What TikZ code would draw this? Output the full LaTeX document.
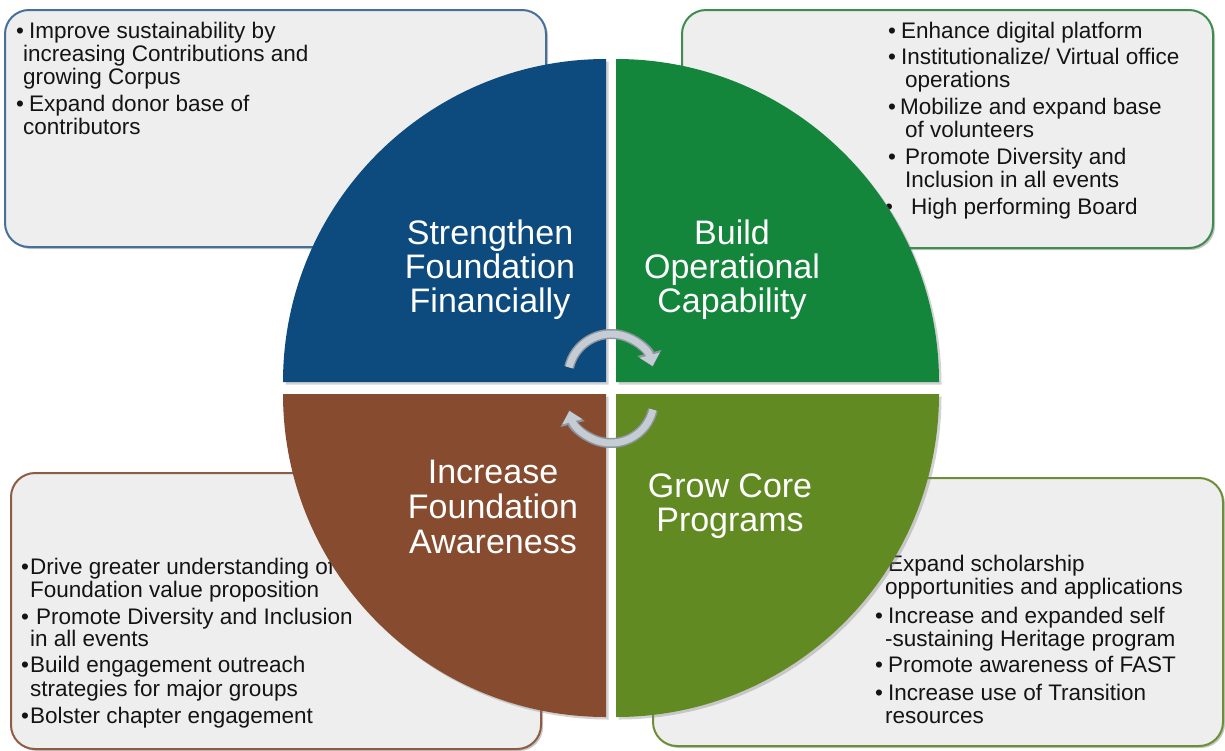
\documentclass[tikz,border=0pt]{standalone}
\usepackage{fontspec}
\setmainfont{Liberation Sans}
\usetikzlibrary{arrows.meta,shadows}
\definecolor{qblue}{HTML}{0D4A7D}
\definecolor{qgreen}{HTML}{13863C}
\definecolor{qbrown}{HTML}{874C30}
\definecolor{qolive}{HTML}{628A22}
\definecolor{bxfill}{HTML}{EEEEEE}
\definecolor{bblue}{HTML}{46709A}
\definecolor{bgreen}{HTML}{3E8C4E}
\definecolor{bbrown}{HTML}{8E5C46}
\definecolor{bolive}{HTML}{6C8E36}
\definecolor{arrowgray}{HTML}{C5CCD4}
\definecolor{arrowedge}{HTML}{8E969F}
\tikzset{
  infobox/.style={fill=bxfill, line width=2pt, rounded corners=24pt, inner sep=0pt,
    drop shadow={shadow xshift=2pt, shadow yshift=-2pt, opacity=0.45}},
  quad/.style={drop shadow={shadow xshift=2.5pt, shadow yshift=-2.5pt, opacity=0.35}},
  txt/.style={anchor=base west, inner sep=0pt, font=\fontsize{22.5}{23.5}\selectfont, text=black!92},
  ttl/.style={anchor=base, inner sep=0pt, font=\fontsize{34}{34.5}\selectfont, text=white},
  cycedge/.style={line width=10pt, draw=arrowedge, -{Triangle[width=24pt,length=14pt]}},
  cyc/.style={line width=7pt, draw=arrowgray, -{Triangle[width=20pt,length=11pt]}},
}
\begin{document}
\begin{tikzpicture}[x=1pt,y=-1pt]
\useasboundingbox (0,0) rectangle (1225,750);
\fill[white] (0,0) rectangle (1225,750);

% info boxes
\node[infobox, draw=bblue, anchor=north west, minimum width=541pt, minimum height=237pt] (boxTL) at (4,9) {};
\node[infobox, draw=bgreen, anchor=north west, minimum width=531pt, minimum height=238pt] (boxTR) at (681,9) {};
\node[infobox, draw=bbrown, anchor=north west, minimum width=530pt, minimum height=276pt] (boxBL) at (10,472) {};
\node[infobox, draw=bolive, anchor=north west, minimum width=570pt, minimum height=268pt] (boxBR) at (652,477) {};

% top-left text
\node[txt] (tlb1) at (16,38) {•};
\node[txt] (tl1) at (29,38) {Improve sustainability by};
\node[txt] (tl2) at (23,61) {increasing Contributions and};
\node[txt] (tl3) at (23,84) {growing Corpus};
\node[txt] (tlb2) at (16,111) {•};
\node[txt] (tl4) at (29,111) {Expand donor base of};
\node[txt] (tl5) at (23,134) {contributors};

% top-right text
\node[txt] (trb1) at (888,38) {•};
\node[txt] (tr1) at (901,38) {Enhance digital platform};
\node[txt] (trb2) at (888,64) {•};
\node[txt] (tr2) at (901,64) {Institutionalize/ Virtual office};
\node[txt] (tr3) at (905,87) {operations};
\node[txt] (trb3) at (888,114) {•};
\node[txt] (tr4) at (900,114) {Mobilize and expand base};
\node[txt] (tr5) at (905,137) {of volunteers};
\node[txt] (trb4) at (888,164) {•};
\node[txt] (tr6) at (905,164) {Promote Diversity and};
\node[txt] (tr7) at (905,187) {Inclusion in all events};
\node[txt] (trb5) at (885,214) {•};
\node[txt] (tr8) at (911,214) {High performing Board};

% bottom-left text
\node[txt] (blb1) at (21,574) {•};
\node[txt] (bl1) at (30,574) {Drive greater understanding of};
\node[txt] (bl2) at (30,597) {Foundation value proposition};
\node[txt] (blb2) at (21,624) {•};
\node[txt] (bl3) at (36,624) {Promote Diversity and Inclusion};
\node[txt] (bl4) at (30,646) {in all events};
\node[txt] (blb3) at (21,672) {•};
\node[txt] (bl5) at (30,672) {Build engagement outreach};
\node[txt] (bl6) at (30,696) {strategies for major groups};
\node[txt] (blb4) at (21,723) {•};
\node[txt] (bl7) at (30,723) {Bolster chapter engagement};

% bottom-right text
\node[txt] (brb1) at (875,571) {•};
\node[txt] (br1) at (888,571) {Expand scholarship};
\node[txt] (br2) at (885,594) {opportunities and applications};
\node[txt] (brb2) at (875,623) {•};
\node[txt] (br3) at (888,623) {Increase and expanded self};
\node[txt] (br4) at (885,646) {-sustaining Heritage program};
\node[txt] (brb3) at (875,672) {•};
\node[txt] (br5) at (888,672) {Promote awareness of FAST};
\node[txt] (brb4) at (875,700) {•};
\node[txt] (br6) at (888,700) {Increase use of Transition};
\node[txt] (br7) at (885,723) {resources};

% quadrants
\fill[qblue, quad] (606,382) -- ++(-323,0) arc[start angle=180, end angle=270, radius=323] -- cycle;
\fill[qgreen, quad] (616,382) -- ++(0,-323) arc[start angle=270, end angle=360, radius=323] -- cycle;
\fill[qolive, quad] (616,394) -- ++(323,0) arc[start angle=0, end angle=90, radius=323] -- cycle;
\fill[qbrown, quad] (606,394) -- ++(0,323) arc[start angle=90, end angle=180, radius=323] -- cycle;

% titles
\node[ttl] (s1) at (490,244) {Strengthen};
\node[ttl] (s2) at (490,278) {Foundation};
\node[ttl] (s3) at (490,312) {Financially};
\node[ttl] (b1) at (732,244) {Build};
\node[ttl] (b2) at (732,278) {Operational};
\node[ttl] (b3) at (732,312) {Capability};
\node[ttl] (i1) at (493,483) {Increase};
\node[ttl] (i2) at (493,518) {Foundation};
\node[ttl] (i3) at (493,553) {Awareness};
\node[ttl] (g1) at (730,497) {Grow Core};
\node[ttl] (g2) at (730,531) {Programs};

% cycle arrows
\coordinate (ctop) at (611,377);
\coordinate (cbot) at (611,400);
\draw[cycedge] (ctop) ++(-167:43) arc[start angle=-167, end angle=-14, radius=43];
\draw[cyc] (ctop) ++(-167:43) arc[start angle=-167, end angle=-15, radius=43];
\draw[cycedge] (cbot) ++(13:43) arc[start angle=13, end angle=166, radius=43];
\draw[cyc] (cbot) ++(13:43) arc[start angle=13, end angle=165, radius=43];
\end{tikzpicture}
\end{document}
